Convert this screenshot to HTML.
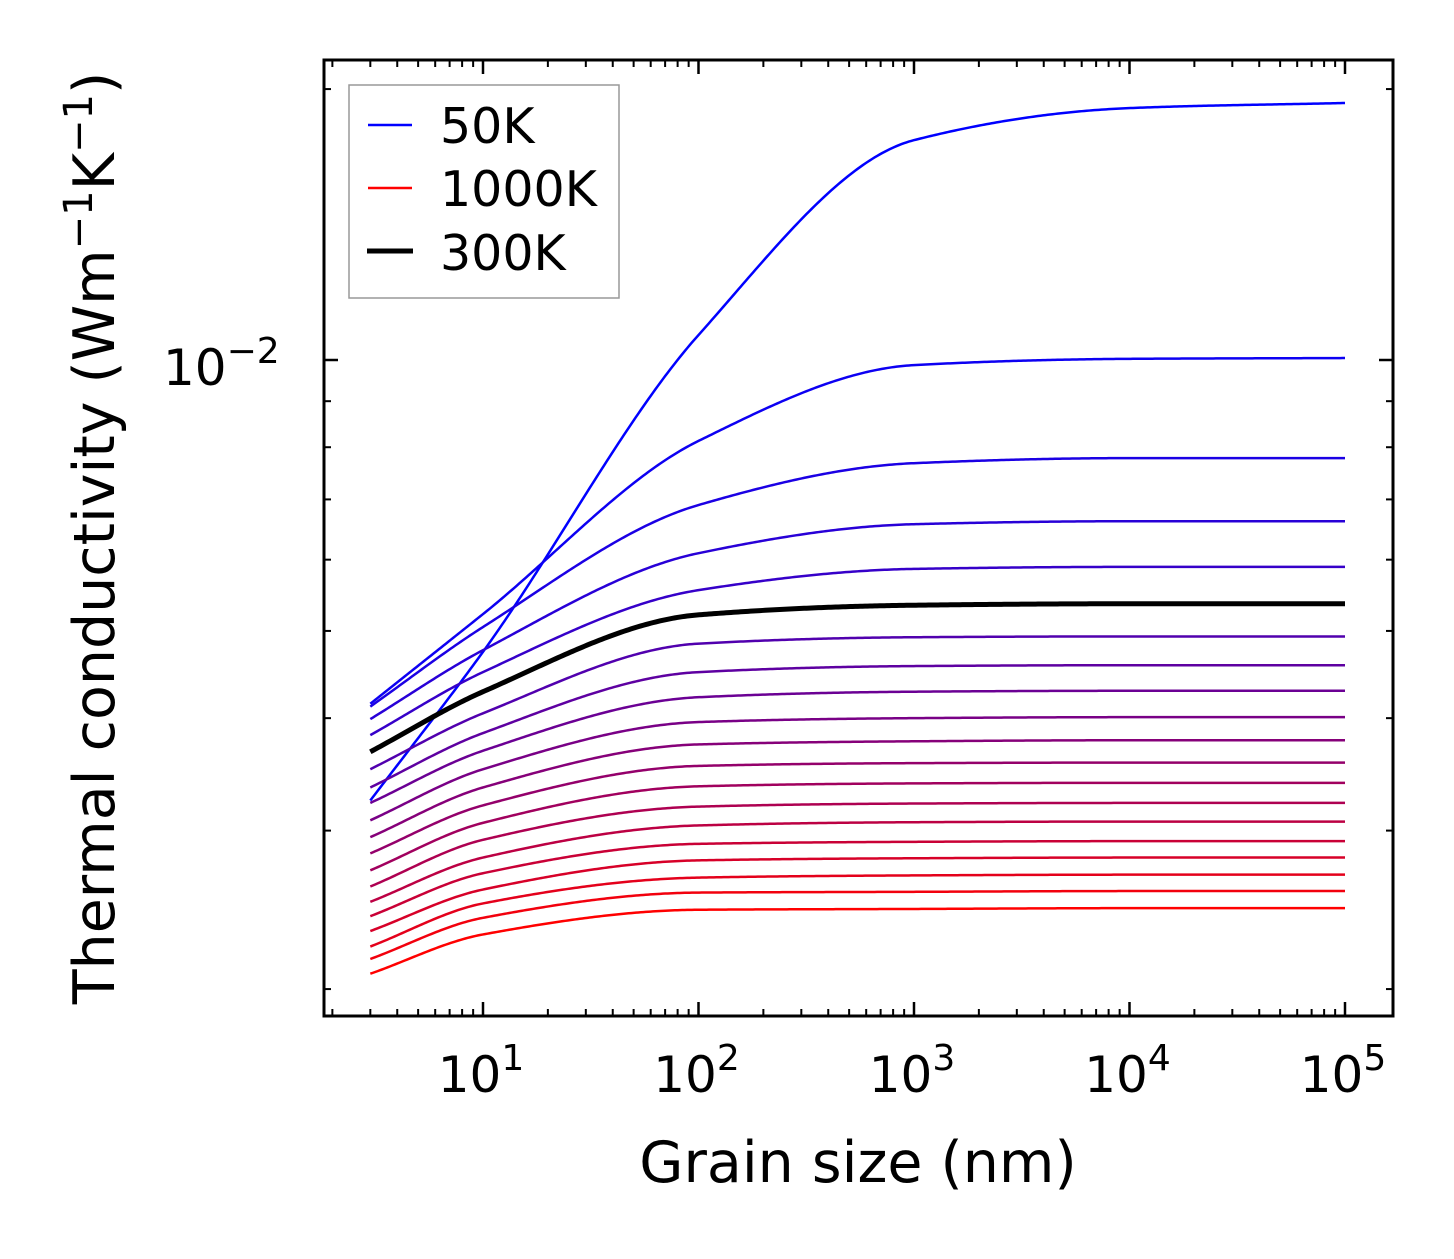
<!DOCTYPE html>
<html><head><meta charset="utf-8"><style>
html,body{margin:0;padding:0;background:#fff}
svg text{font-family:"DejaVu Sans","Liberation Sans",sans-serif;fill:#000}
</style></head><body>
<svg id="chart" width="1454" height="1254" xmlns="http://www.w3.org/2000/svg">
<rect width="1454" height="1254" fill="#fff"/>
<g id="lines"></g>
<g id="axes"></g>
<text x="858" y="1182" font-size="57" text-anchor="middle">Grain size (nm)</text>
<text transform="translate(114,538) rotate(-90)" font-size="57" text-anchor="middle">Thermal conductivity (Wm<tspan dy="-22" font-size="40">−1</tspan><tspan dy="22">K</tspan><tspan dy="-22" font-size="40">−1</tspan><tspan dy="22">)</tspan></text>
<g>
<rect x="349" y="85" width="270" height="213" fill="#fff" stroke="#999" stroke-width="1.5"/>
<line x1="368" y1="125" x2="412" y2="125" stroke="#0000ff" stroke-width="2.5"/>
<text x="440" y="143" font-size="49">50K</text>
<line x1="368" y1="188" x2="412" y2="188" stroke="#ff0000" stroke-width="2.5"/>
<text x="440" y="206" font-size="49">1000K</text>
<line x1="367" y1="251" x2="413" y2="251" stroke="#000" stroke-width="5"/>
<text x="440" y="270" font-size="49">300K</text>
</g>
</svg>
<script>
// grain sizes (nm) at which values were read
const grainSizes = [3, 10, 100, 1000, 10000, 100000];
const temperatures = [50,100,150,200,250,300,350,400,450,500,550,600,650,700,750,800,850,900,950,1000];
// thermal conductivity in units of 1e-3 W/mK
const k50 =   [3.24, 4.74, 10.66, 17.55, 19.05, 19.30];
const k100 =  [4.15, 5.22, 8.13, 9.87, 10.03, 10.05];
const k150 =  [4.12, 5.05, 6.90, 7.68, 7.78, 7.78];
const k200 =  [3.99, 4.76, 6.10, 6.57, 6.62, 6.62];
const k250 =  [3.83, 4.50, 5.55, 5.86, 5.89, 5.89];
const k300 =  [3.67, 4.28, 5.21, 5.34, 5.36, 5.36];
const k350 =  [3.51, 4.05, 4.84, 4.92, 4.93, 4.93];
const k400 =  [3.35, 3.85, 4.50, 4.57, 4.58, 4.58];
const k450 =  [3.22, 3.68, 4.22, 4.28, 4.29, 4.29];
const k500 =  [3.08, 3.51, 3.96, 4.00, 4.01, 4.01];
const k550 =  [2.95, 3.35, 3.74, 3.77, 3.78, 3.78];
const k600 =  [2.83, 3.20, 3.54, 3.565, 3.57, 3.57];
const k650 =  [2.71, 3.06, 3.36, 3.385, 3.39, 3.39];
const k700 =  [2.60, 2.93, 3.19, 3.215, 3.22, 3.22];
const k750 =  [2.50, 2.80, 3.04, 3.065, 3.07, 3.07];
const k800 =  [2.41, 2.69, 2.90, 2.915, 2.92, 2.92];
const k850 =  [2.32, 2.58, 2.78, 2.795, 2.80, 2.80];
const k900 =  [2.23, 2.49, 2.66, 2.675, 2.68, 2.68];
const k950 =  [2.16, 2.40, 2.56, 2.565, 2.57, 2.57];
const k1000 = [2.08, 2.30, 2.45, 2.455, 2.46, 2.46];
const seriesValues = [k50,k100,k150,k200,k250,k300,k350,k400,k450,k500,k550,k600,k650,k700,k750,k800,k850,k900,k950,k1000];
const xTickLabels = ['1','2','3','4','5'];

const NS='http://www.w3.org/2000/svg';
const L=324,R=1393,T=60,B=1016;
function xScale(v){return 483+(Math.log10(v)-1)*215.5;}
function yScale(k){return 360-(Math.log10(k*1e-3)+2)*900;}

// monotone cubic in log-log space
function interp(xs,ys,n){
  const X=xs.map(Math.log10),Y=ys.map(Math.log10),m=X.length;
  const d=[],s=[];
  for(let i=0;i<m-1;i++)d.push((Y[i+1]-Y[i])/(X[i+1]-X[i]));
  s[0]=d[0];s[m-1]=d[m-2];
  for(let i=1;i<m-1;i++){
    if(d[i-1]*d[i]<=0){s[i]=0;continue;}
    const h0=X[i]-X[i-1],h1=X[i+1]-X[i];
    const w1=2*h1+h0,w2=h1+2*h0;
    s[i]=(w1+w2)/(w1/d[i-1]+w2/d[i]);
  }
  const pts=[];
  for(let j=0;j<=n;j++){
    const x=X[0]+(X[m-1]-X[0])*j/n;
    let i=0;while(i<m-2&&x>X[i+1])i++;
    const h=X[i+1]-X[i],t=(x-X[i])/h;
    const h00=2*t*t*t-3*t*t+1,h10=t*t*t-2*t*t+t,h01=-2*t*t*t+3*t*t,h11=t*t*t-t*t;
    const y=h00*Y[i]+h10*h*s[i]+h01*Y[i+1]+h11*h*s[i+1];
    pts.push([Math.pow(10,x),Math.pow(10,y)]);
  }
  return pts;
}

const lg=document.getElementById('lines');
let blackPath=null;
seriesValues.forEach((vals,idx)=>{
  const f=idx/(seriesValues.length-1);
  const col=`rgb(${Math.round(255*f)},0,${Math.round(255*(1-f))})`;
  const pts=interp(grainSizes,vals,400);
  const d=pts.map((p,i)=>(i?'L':'M')+xScale(p[0]).toFixed(2)+','+yScale(p[1]).toFixed(2)).join('');
  const p=document.createElementNS(NS,'path');
  p.setAttribute('d',d);
  p.setAttribute('fill','none');
  const is300=temperatures[idx]===300;
  p.setAttribute('stroke',is300?'#000':col);
  p.setAttribute('stroke-width',is300?5:2.5);
  
  
  if(is300)blackPath=p;else lg.appendChild(p);
});
if(blackPath)lg.appendChild(blackPath);

const ax=document.getElementById('axes');
function ln(x1,y1,x2,y2,w){const l=document.createElementNS(NS,'line');l.setAttribute('x1',x1);l.setAttribute('y1',y1);l.setAttribute('x2',x2);l.setAttribute('y2',y2);l.setAttribute('stroke','#000');l.setAttribute('stroke-width',w);ax.appendChild(l);return l;}
for(let e=0;e<=5;e++){
  for(let m=1;m<10;m++){
    const v=m*Math.pow(10,e);const x=xScale(v);
    if(x<L+1||x>R-1)continue;
    const len=m===1?14:7,w=m===1?2.5:2;
    ln(x,B,x,B-len,w);ln(x,T,x,T+len,w);
  }
}
for(let e=-3;e<=-2;e++){
  for(let m=1;m<10;m++){
    const k=m*Math.pow(10,e)*1e3;const y=yScale(k);
    if(y<T+1||y>B-1)continue;
    const len=(e===-2&&m===1)?14:7,w=(m===1)?2.5:2;
    ln(L,y,L+len,y,w);ln(R,y,R-len,y,w);
  }
}
const fr=document.createElementNS(NS,'rect');
fr.setAttribute('x',L);fr.setAttribute('y',T);fr.setAttribute('width',R-L);fr.setAttribute('height',B-T);
fr.setAttribute('fill','none');fr.setAttribute('stroke','#000');fr.setAttribute('stroke-width',3);


ax.appendChild(fr);
xTickLabels.forEach(ex=>{
  const t=document.createElementNS(NS,'text');
  t.setAttribute('x',xScale(Math.pow(10,+ex))-2);t.setAttribute('y',1092);
  t.setAttribute('font-size','50');t.setAttribute('text-anchor','middle');
  t.innerHTML='10<tspan dy="-22" font-size="36">'+ex+'</tspan>';
  
  
  ax.appendChild(t);
});
const yl=document.createElementNS(NS,'text');
yl.setAttribute('x',163);yl.setAttribute('y',385);yl.setAttribute('font-size','50');
yl.innerHTML='10<tspan dy="-22" font-size="36">−2</tspan>';


ax.appendChild(yl);
</script>
</body></html>
